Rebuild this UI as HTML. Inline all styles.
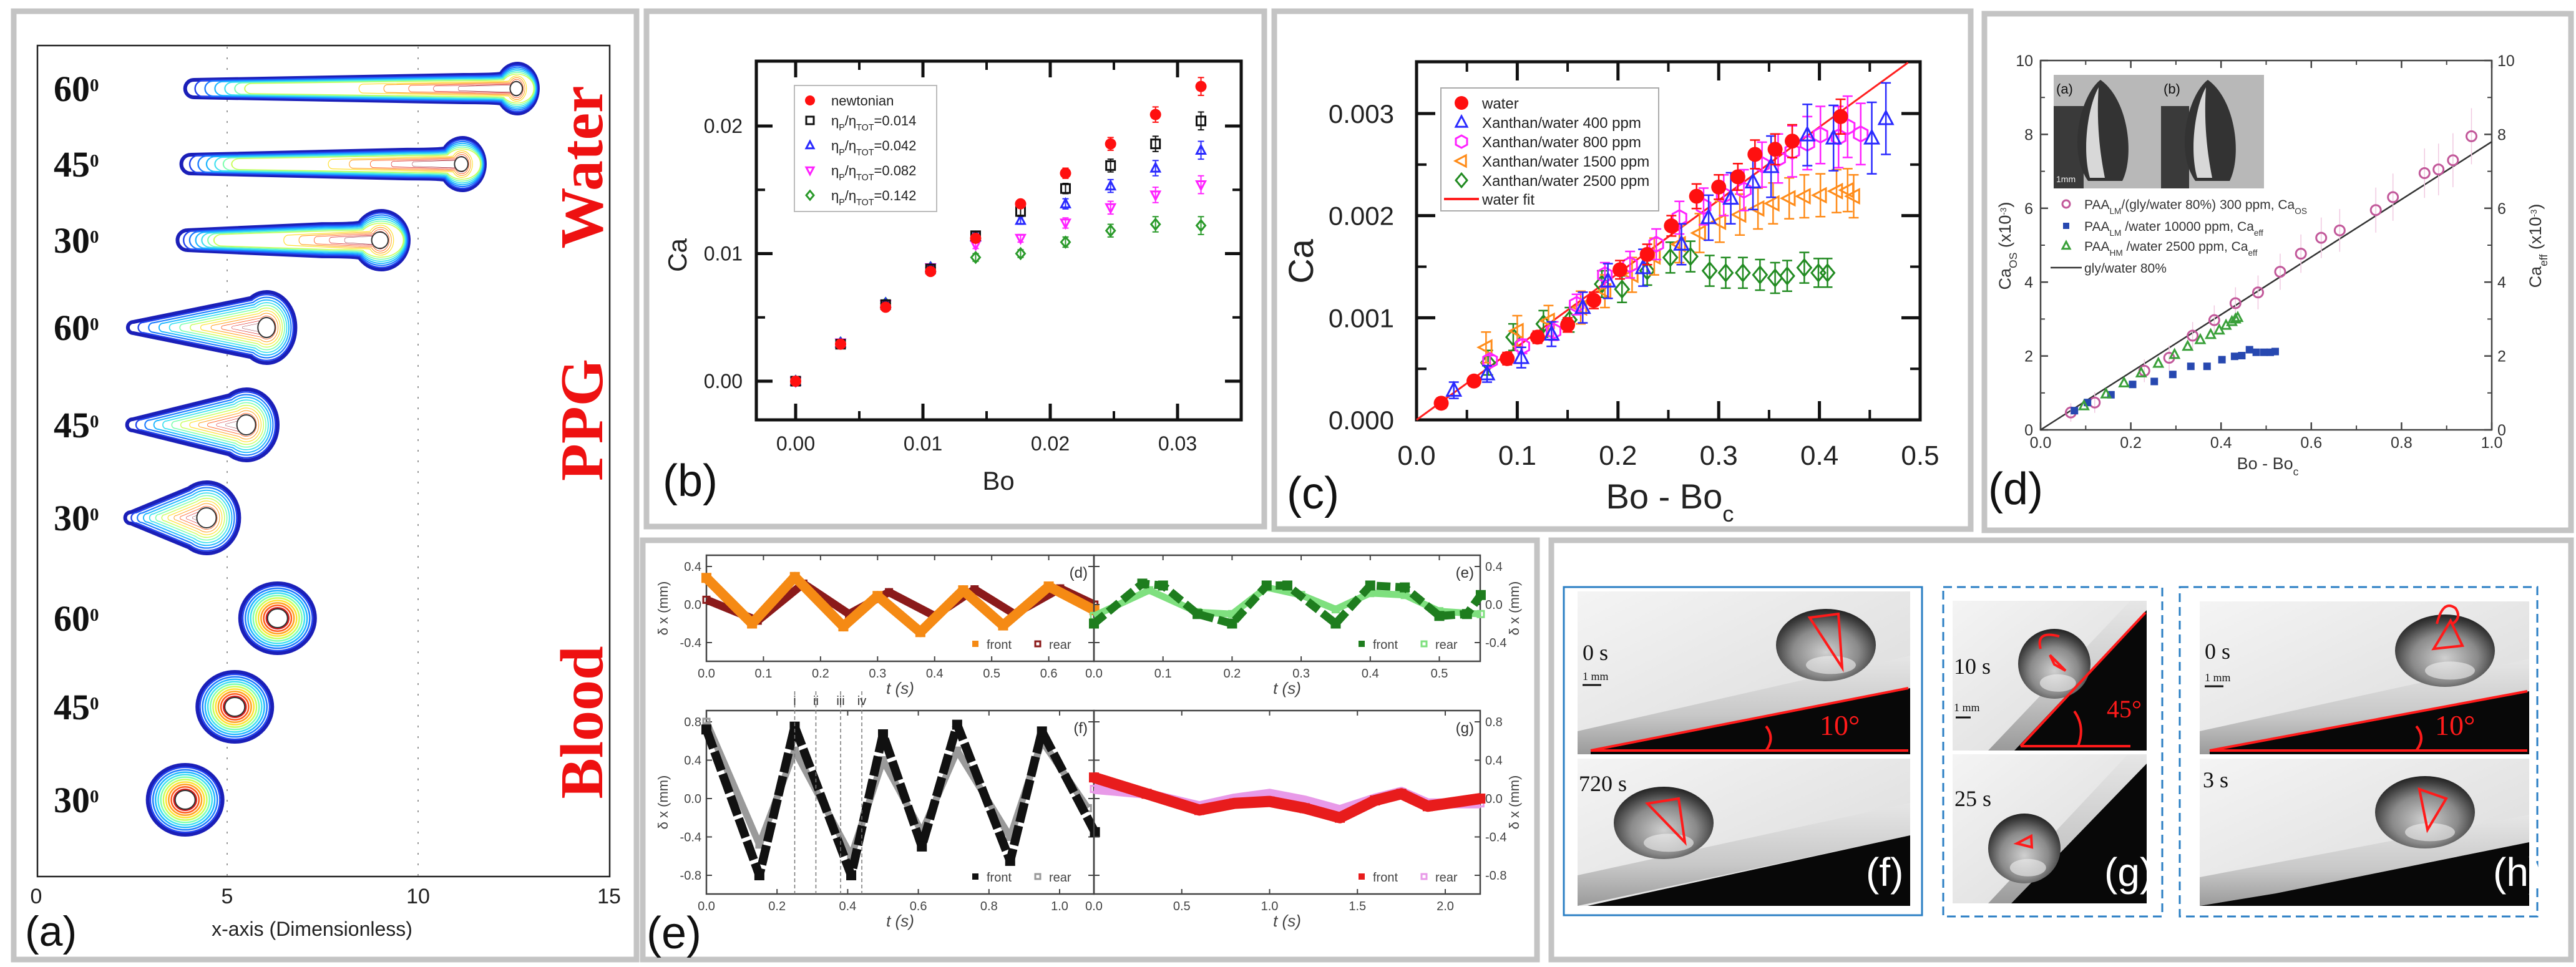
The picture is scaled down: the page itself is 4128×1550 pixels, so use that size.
<!DOCTYPE html>
<html><head><meta charset="utf-8"><title>Drop sliding composite figure</title>
<style>
html,body{margin:0;padding:0;background:#fff;}
svg{display:block;font-family:"Liberation Sans",Arial,sans-serif;}
</style></head>
<body>
<svg id="fig" xmlns="http://www.w3.org/2000/svg" width="4128" height="1550" viewBox="0 0 4128 1550">
<defs>
<linearGradient id="bgPhoto" x1="0" y1="0" x2="1" y2="1"><stop offset="0" stop-color="#f4f4f4"/><stop offset="1" stop-color="#d9d9d9"/></linearGradient>
<linearGradient id="bandG" x1="0" y1="0" x2="0" y2="1"><stop offset="0" stop-color="#e6e6e6"/><stop offset="0.6" stop-color="#c8c8c8"/><stop offset="1" stop-color="#9a9a9a"/></linearGradient>
<radialGradient id="dropG" cx="0.5" cy="0.6" r="0.6"><stop offset="0" stop-color="#d0d0d0"/><stop offset="0.55" stop-color="#8a8a8a"/><stop offset="0.85" stop-color="#404040"/><stop offset="1" stop-color="#222"/></radialGradient>
</defs>
<rect x="0" y="0" width="4128" height="1550" fill="#ffffff"/>
</svg>
<script>
// ---------------- data (panel b) ----------------
const bBo=[0,0.00353,0.00707,0.0106,0.01414,0.01767,0.0212,0.02474,0.02827,0.03184];
const bNewt=[0,0.0029,0.0058,0.0086,0.0112,0.0139,0.0163,0.0186,0.0209,0.0231];
const b014=[0,0.0029,0.006,0.0088,0.0114,0.0133,0.0151,0.0169,0.0186,0.0204];
const b042=[0,0.003,0.0061,0.0089,0.0113,0.0126,0.0139,0.0153,0.0167,0.0181];
const b082=[0,0.003,0.006,0.0089,0.0107,0.0112,0.0124,0.0136,0.0146,0.0154];
const b142=[0,0.003,0.0061,0.0089,0.0097,0.0100,0.0109,0.0118,0.0123,0.0122];
const bErr=[0.0001,0.0002,0.0002,0.0002,0.0003,0.0003,0.0004,0.0005,0.0006,0.0007];
const bXTicks=[0,0.01,0.02,0.03];
const bXLabels=["0.00","0.01","0.02","0.03"];
const bYTicks=[0,0.01,0.02];
const bYLabels=["0.00","0.01","0.02"];
// ---------------- data (panel c) ----------------
const cWaterX=[0.0245,0.057,0.09,0.12,0.15,0.176,0.202,0.229,0.253,0.278,0.3,0.319,0.336,0.356,0.373,0.421];
const cWaterY=[0.000163,0.00038,0.0006,0.00081,0.00093,0.00117,0.00147,0.00162,0.0019,0.00219,0.00228,0.00238,0.0026,0.00265,0.00273,0.00297];
const cWaterE=[0.00005,0.00005,0.00006,0.00006,0.00007,0.00008,0.00009,0.0001,0.0001,0.00012,0.00012,0.00013,0.00014,0.00015,0.00016,0.00017];
const c400X=[0.037,0.07,0.104,0.134,0.165,0.19,0.225,0.263,0.29,0.312,0.334,0.352,0.388,0.414,0.452,0.466];
const c400Y=[0.00029,0.00045,0.00061,0.00084,0.0011,0.00136,0.00149,0.00172,0.00198,0.00217,0.00233,0.00248,0.00279,0.00276,0.00276,0.00295];
const c400E=[0.00008,0.00008,0.0001,0.00012,0.00015,0.00017,0.00018,0.0002,0.00022,0.00025,0.00027,0.0003,0.0003,0.00032,0.00035,0.00035];
const c800X=[0.073,0.105,0.136,0.159,0.187,0.212,0.238,0.261,0.285,0.305,0.325,0.343,0.359,0.373,0.388,0.401,0.419,0.428,0.441];
const c800Y=[0.00058,0.00072,0.00087,0.00113,0.00142,0.00152,0.00172,0.00198,0.00209,0.0022,0.00225,0.0025,0.00256,0.00263,0.00271,0.00279,0.00277,0.00287,0.0028];
const c800E=[0.00005,0.00007,0.00009,0.0001,0.00012,0.00013,0.00015,0.00016,0.00018,0.0002,0.0002,0.00022,0.00024,0.00025,0.00026,0.00028,0.0003,0.0003,0.0003];
const c1500X=[0.069,0.1,0.131,0.163,0.187,0.214,0.236,0.261,0.281,0.301,0.321,0.339,0.354,0.37,0.385,0.401,0.417,0.428,0.434];
const c1500Y=[0.00071,0.00087,0.00097,0.0011,0.00126,0.00142,0.0016,0.00172,0.00183,0.00194,0.00201,0.00207,0.00212,0.00217,0.00219,0.0022,0.00224,0.00225,0.00219];
const c1500E=[0.00015,0.00015,0.00015,0.00016,0.00016,0.00017,0.00018,0.00018,0.00019,0.0002,0.0002,0.0002,0.0002,0.0002,0.00021,0.00021,0.00021,0.00021,0.00021];
const c2500X=[0.071,0.096,0.126,0.152,0.184,0.204,0.229,0.252,0.272,0.291,0.307,0.324,0.341,0.356,0.368,0.385,0.399,0.408];
const c2500Y=[0.00056,0.00081,0.00094,0.00098,0.00133,0.00128,0.00146,0.00159,0.0016,0.00146,0.00144,0.00144,0.00142,0.00139,0.00141,0.00149,0.00144,0.00144];
const c2500E=[0.00012,0.00013,0.00013,0.00012,0.00013,0.00013,0.00014,0.00015,0.00015,0.00015,0.00015,0.00015,0.00015,0.00015,0.00015,0.00015,0.00014,0.00014];
const cFitSlope=[0.00717];
const cXTicks=[0,0.1,0.2,0.3,0.4,0.5];
const cXLabels=["0.0","0.1","0.2","0.3","0.4","0.5"];
const cYTicks=[0,0.001,0.002,0.003];
const cYLabels=["0.000","0.001","0.002","0.003"];
// ---------------- data (panel d) ----------------
const dPinkX=[0.067,0.12,0.23,0.285,0.337,0.385,0.432,0.482,0.531,0.577,0.622,0.663,0.743,0.781,0.851,0.882,0.914,0.955];
const dPinkY=[0.47,0.74,1.6,1.95,2.55,2.97,3.43,3.72,4.28,4.77,5.2,5.4,5.95,6.3,6.95,7.05,7.3,7.95];
const dBlueX=[0.075,0.104,0.156,0.204,0.252,0.293,0.333,0.369,0.402,0.43,0.446,0.463,0.478,0.495,0.509,0.52];
const dBlueY=[0.52,0.74,0.95,1.23,1.31,1.5,1.72,1.72,1.9,1.99,2.01,2.17,2.1,2.1,2.1,2.12];
const dGreenX=[0.096,0.145,0.185,0.223,0.261,0.297,0.326,0.354,0.377,0.396,0.411,0.424,0.432,0.437];
const dGreenY=[0.65,0.97,1.27,1.54,1.8,2.04,2.26,2.44,2.58,2.7,2.83,2.93,3.0,3.04];
const dFit=[7.8];
const dXTicks=[0,0.2,0.4,0.6,0.8,1.0];
const dXLabels=["0.0","0.2","0.4","0.6","0.8","1.0"];
const dYTicks=[0,2,4,6,8,10];
const dYLabels=["0","2","4","6","8","10"];
// ---------------- data (panel e) ----------------
const eDT=[0,0.08,0.155,0.24,0.3,0.375,0.45,0.52,0.6,0.68];
const eDFront=[0.28,-0.2,0.29,-0.23,0.09,-0.29,0.15,-0.22,0.19,-0.06];
const eDRT=[0,0.09,0.17,0.25,0.32,0.4,0.47,0.54,0.62,0.68];
const eDRear=[0.05,-0.17,0.22,-0.1,0.13,-0.12,0.16,-0.1,0.17,0.0];
const eET=[0,0.07,0.1,0.15,0.2,0.25,0.28,0.35,0.4,0.45,0.5,0.54,0.56];
const eEFront=[-0.2,0.22,0.2,-0.1,-0.2,0.2,0.2,-0.2,0.2,0.18,-0.12,-0.1,0.1];
const eERT=[0,0.08,0.15,0.2,0.25,0.3,0.35,0.4,0.45,0.5,0.56];
const eERear=[-0.12,0.15,-0.08,-0.1,0.18,0.1,-0.05,0.12,0.1,-0.07,-0.1];
const eFT=[0,0.15,0.25,0.41,0.5,0.61,0.71,0.86,0.95,1.1];
const eFFront=[0.72,-0.8,0.75,-0.8,0.67,-0.5,0.77,-0.65,0.7,-0.35];
const eFRT=[0,0.15,0.25,0.41,0.5,0.61,0.71,0.86,0.95,1.08];
const eFRear=[0.8,-0.48,0.5,-0.6,0.4,-0.35,0.5,-0.4,0.6,-0.1];
const eFMarks=[0.25,0.31,0.38,0.44];
const eFMarkLabels=["i","ii","iii","iv"];
const eGT=[0,0.3,0.6,0.8,1.0,1.2,1.4,1.6,1.75,1.9,2.2];
const eGFront=[0.22,0.05,-0.12,-0.05,-0.03,-0.1,-0.2,-0.02,0.05,-0.08,0.0];
const eGRear=[0.1,0.05,-0.08,0.0,0.05,-0.02,-0.12,0.0,0.07,-0.05,-0.05];
// ---------------- data (panel a) ----------------
const aTailX=[3.9,3.8,3.7,2.4,2.38,2.33];
const aHeadX=[12.57,11.13,9.0,6.03,5.5,4.46];
const aBloodX=[6.32,5.2,3.9];
const aTicks=[0,5,10,15];

// ---------------- helpers ----------------
const NS='http://www.w3.org/2000/svg';
const svg=document.getElementById('fig');
function mk(tag,attrs,parent,name,inter){
  const el=document.createElementNS(NS,tag);
  for(const k in attrs) el.setAttribute(k,attrs[k]);
  
  
  (parent||svg).appendChild(el);
  return el;
}
function txt(x,y,s,attrs,parent,name){
  const t=mk('text',Object.assign({x:x,y:y},attrs||{}),parent,name,false);
  t.textContent=s;
  return t;
}
function rich(x,y,parts,attrs,parent,name){
  const t=mk('text',Object.assign({x:x,y:y},attrs||{}),parent,name,false);
  parts.forEach(p=>{
    const s=document.createElementNS(NS,'tspan');
    if(p[1]==='sub'){s.setAttribute('baseline-shift','sub');s.setAttribute('font-size','65%');}
    if(p[1]==='sup'){s.setAttribute('baseline-shift','super');s.setAttribute('font-size','50%');}
    s.textContent=p[0];
    t.appendChild(s);
  });
  return t;
}
function lin(d0,d1,p0,p1){return v=>p0+(v-d0)/(d1-d0)*(p1-p0);}
function group(name){return mk('g',{},svg,name,false);}
function marker(type,x,y,s,color,g,name){
  let el;
  const sw=3;
  if(type==='dot') el=mk('circle',{cx:x,cy:y,r:s,fill:color},g,name,false);
  else if(type==='sq') el=mk('rect',{x:x-s,y:y-s,width:2*s,height:2*s,fill:'none',stroke:color,'stroke-width':sw},g,name,false);
  else if(type==='fsq') el=mk('rect',{x:x-s,y:y-s,width:2*s,height:2*s,fill:color},g,name,false);
  else if(type==='circ') el=mk('circle',{cx:x,cy:y,r:s,fill:'none',stroke:color,'stroke-width':sw},g,name,false);
  else {
    let pts;
    if(type==='tri') pts=[[0,-s*1.1],[s,s*0.8],[-s,s*0.8]];
    else if(type==='itri') pts=[[0,s*1.1],[s,-s*0.8],[-s,-s*0.8]];
    else if(type==='ltri') pts=[[-s*1.1,0],[s*0.8,-s],[s*0.8,s]];
    else if(type==='dia') pts=[[0,-s*1.2],[s,0],[0,s*1.2],[-s,0]];
    else if(type==='hex') pts=[[0,-s*1.1],[s,-s*0.55],[s,s*0.55],[0,s*1.1],[-s,s*0.55],[-s,-s*0.55]];
    el=mk('polygon',{points:pts.map(p=>(x+p[0])+','+(y+p[1])).join(' '),fill:'none',stroke:color,'stroke-width':sw},g,name,false);
  }
  return el;
}
function errbar(x,y0,y1,color,g,name,cap,w){
  mk('path',{d:`M${x},${y0}V${y1}M${x-cap},${y0}H${x+cap}M${x-cap},${y1}H${x+cap}`,stroke:color,'stroke-width':w||2.5,fill:'none'},g,name,false);
}
function panelBox(x,y,w,h,name){
  mk('rect',{x:x,y:y,width:w,height:h,fill:'#fff',stroke:'#c4c4c4','stroke-width':9},svg,name,false);
}
function ticksX(g,xs,vals,y0,y1,len,dir,sw,color){
  vals.forEach(v=>{
    mk('line',{x1:xs(v),y1:y0,x2:xs(v),y2:y0-len,stroke:color,'stroke-width':sw},g,'x-tick-bottom',false);
    mk('line',{x1:xs(v),y1:y1,x2:xs(v),y2:y1+len,stroke:color,'stroke-width':sw},g,'x-tick-top',false);
  });
}
function ticksY(g,ys,vals,x0,x1,len,sw,color){
  vals.forEach(v=>{
    mk('line',{x1:x0,y1:ys(v),x2:x0+len,y2:ys(v),stroke:color,'stroke-width':sw},g,'y-tick-left',false);
    mk('line',{x1:x1,y1:ys(v),x2:x1-len,y2:ys(v),stroke:color,'stroke-width':sw},g,'y-tick-right',false);
  });
}

// ---------------- panel boxes ----------------
panelBox(22,18,998,1520,'panel-a-box');
panelBox(1036,18,990,826,'panel-b-box');
panelBox(2042,18,1116,830,'panel-c-box');
panelBox(3180,22,940,828,'panel-d-box');
panelBox(1030,866,1433,672,'panel-e-box');
panelBox(2486,866,1634,672,'panel-fgh-box');

// ================= PANEL A =================
(function(){
  const g=group('panel-a');
  const xa=lin(0,15,58,976);
  mk('rect',{x:60,y:73,width:917,height:1332,fill:'none',stroke:'#222','stroke-width':2.5},g,'plot-frame',false);
  [5,10].forEach(v=>mk('line',{x1:xa(v),y1:75,x2:xa(v),y2:1404,stroke:'#999','stroke-width':2,'stroke-dasharray':'3,14'},g,'dotted-gridline',false));
  aTicks.forEach((v,i)=>txt(xa(v),1448,String(v),{'font-size':34,'text-anchor':'middle',fill:'#222'},g,'x-tick-label'));
  txt(500,1500,'x-axis (Dimensionless)',{'font-size':32,'text-anchor':'middle',fill:'#222'},g,'x-axis-title');
  txt(40,1516,'(a)',{'font-size':68,fill:'#111'},g,'panel-label-a');
  const jet=['#1b1fb8','#2244ee','#1d7cff','#1fb6ff','#3fe0f0','#7dffb0','#c8ff5a','#ffe033','#ffa020','#ff5a1a','#d81a1a','#8a0f20'];
  const rows=[142,263,385,525,681,830];
  const drops=[[33,40,14],[36,42,15],[44,47,16],[46,57,9],[50,57,9],[52,57,9]];
  rows.forEach((cy,i)=>{
    const tx=xa(aTailX[i]), hx=xa(aHeadX[i]);
    const rx=drops[i][0], ry=drops[i][1], h=drops[i][2];
    const water=i<3;
    const ax=hx-rx*(water?0.75:0.55), ayU=cy-ry*(water?0.6:0.83), ayD=cy+ry*(water?0.6:0.83);
    const nx=water?ax-60:ax, nh=water?ry*0.55:0;
    const d=water
      ? `M${tx+h},${cy-h} L${nx},${cy-nh} Q${ax-10},${cy-nh} ${ax},${ayU} A${rx},${ry} 0 1 1 ${ax},${ayD} Q${ax-10},${cy+nh} ${nx},${cy+nh} L${tx+h},${cy+h} A${h},${h} 0 0 1 ${tx+h},${cy-h}Z`
      : `M${tx+h},${cy-h} L${ax},${ayU} A${rx},${ry} 0 1 1 ${ax},${ayD} L${tx+h},${cy+h} A${h},${h} 0 0 1 ${tx+h},${cy-h}Z`;
    const dg=mk('g',{},g,'contour-drop',false);
    mk('path',{d:d,fill:'#fff',stroke:jet[0],'stroke-width':6},dg,'drop-outline',false);
    for(let k=1;k<jet.length;k++){
      const s=1-k*0.075;
      const sy=water?Math.max(0.25,1-k*0.07):s;
      const sx=water?Math.max(0.3,1-k*0.03):s;
      mk('path',{d:d,fill:'none',stroke:jet[k],'stroke-width':2.5,transform:`translate(${hx},${cy}) scale(${water?(k>6?s:sx):s},${sy}) translate(${-hx},${-cy})`},dg,'contour-line',false);
    }
    mk('ellipse',{cx:hx,cy:cy,rx:rx*0.3,ry:ry*0.28,fill:'#fff',stroke:'#333','stroke-width':2},dg,'drop-core',false);
  });
  [991,1133,1282].forEach((cy,i)=>{
    const cx=xa(aBloodX[i]);
    const dg=mk('g',{},g,'blood-drop',false);
    for(let k=0;k<jet.length;k++){
      const s=1-k*0.07;
      mk('ellipse',{cx:cx,cy:cy,rx:60*s,ry:56*s,fill:k===0?'#fff':'none',stroke:jet[k],'stroke-width':k===0?6:2.5},dg,'contour-line',false);
    }
    mk('ellipse',{cx:cx,cy:cy,rx:16,ry:15,fill:'#fff',stroke:'#333','stroke-width':2},dg,'drop-core',false);
  });
  const angs=['60','45','30','60','45','30','60','45','30'];
  const ay=[142,263,385,525,681,830,991,1133,1282];
  angs.forEach((a,i)=>rich(86,ay[i]+20,[[a,''],['0','sup']],{'font-size':58,'font-weight':'bold','font-family':'"Liberation Serif",serif',fill:'#111'},g,'angle-label'));
  [['Water',268],['PPG',673],['Blood',1158]].forEach(w=>{
    txt(0,0,w[0],{'font-size':98,'font-weight':'bold','font-family':'"Liberation Serif",serif',fill:'#ee1111','text-anchor':'middle',transform:`translate(965,${w[1]}) rotate(-90)`},g,'fluid-label-'+w[0].toLowerCase());
  });
})();

// ================= PANEL B =================
(function(){
  const g=group('panel-b');
  const xb=lin(0,0.03,1275,1887), yb=lin(0,0.02,611,202);
  mk('rect',{x:1212,y:98,width:777,height:575,fill:'none',stroke:'#111','stroke-width':5},g,'plot-frame',false);
  ticksX(g,xb,bXTicks,673,98,26,0,5,'#111');
  ticksX(g,xb,[0.005,0.015,0.025],673,98,14,0,4,'#111');
  ticksY(g,yb,bYTicks,1212,1989,26,5,'#111');
  ticksY(g,yb,[0.005,0.015],1212,1989,14,4,'#111');
  bXTicks.forEach((v,i)=>txt(xb(v),722,bXLabels[i],{'font-size':32,'text-anchor':'middle',fill:'#222'},g,'x-tick-label'));
  bYTicks.forEach((v,i)=>txt(1190,yb(v)+11,bYLabels[i],{'font-size':32,'text-anchor':'end',fill:'#222'},g,'y-tick-label'));
  txt(0,0,'Ca',{'font-size':42,'text-anchor':'middle',fill:'#222',transform:'translate(1100,409) rotate(-90)'},g,'y-axis-title');
  txt(1600,785,'Bo',{'font-size':42,'text-anchor':'middle',fill:'#222'},g,'x-axis-title');
  txt(1062,795,'(b)',{'font-size':72,fill:'#111'},g,'panel-label-b');
  const series=[[b142,'dia','#2a9a2a'],[b082,'itri','#ff22ff'],[b042,'tri','#2a2aff'],[b014,'sq','#111'],[bNewt,'dot','#ff1010']];
  series.forEach((s,si)=>{
    const sg=mk('g',{},g,'series-b-'+si,false);
    bBo.forEach((x,i)=>{
      const px=xb(x),py=yb(s[0][i]);
      errbar(px,yb(s[0][i]+bErr[i]),yb(s[0][i]-bErr[i]),s[2],sg,'error-bar',5,2);
      marker(s[1],px,py,s[1]==='dot'?9:7,s[2],sg,'data-point');
    });
  });
  const lg=mk('g',{},g,'legend-b',false);
  mk('rect',{x:1273,y:137,width:228,height:202,fill:'#fff',stroke:'#bbb','stroke-width':2},lg,'legend-frame',false);
  const ly=[161,193,233,273,313];
  const lt=['newtonian','=0.014','=0.042','=0.082','=0.142'];
  const lm=[['dot','#ff1010'],['sq','#111'],['tri','#2a2aff'],['itri','#ff22ff'],['dia','#2a9a2a']];
  ly.forEach((y,i)=>{
    marker(lm[i][0],1298,y,lm[i][0]==='dot'?8:6,lm[i][1],lg,'legend-marker');
    if(i===0) txt(1332,y+8,lt[i],{'font-size':22,fill:'#222'},lg,'legend-entry');
    else rich(1332,y+8,[['η',''],['P','sub'],['/η',''],['TOT','sub'],[lt[i],'']],{'font-size':22,fill:'#222'},lg,'legend-entry');
  });
})();

// ================= PANEL C =================
(function(){
  const g=group('panel-c');
  const xc=lin(0,0.5,2270,3077), yc=lin(0,0.003,673,182);
  mk('rect',{x:2270,y:99,width:807,height:574,fill:'none',stroke:'#111','stroke-width':5},g,'plot-frame',false);
  ticksX(g,xc,cXTicks,673,99,30,0,5,'#111');
  ticksX(g,xc,[0.05,0.15,0.25,0.35,0.45],673,99,16,0,4,'#111');
  ticksY(g,yc,cYTicks,2270,3077,30,5,'#111');
  ticksY(g,yc,[0.0005,0.0015,0.0025],2270,3077,16,4,'#111');
  cXTicks.forEach((v,i)=>txt(xc(v),745,cXLabels[i],{'font-size':44,'text-anchor':'middle',fill:'#222'},g,'x-tick-label'));
  cYTicks.forEach((v,i)=>txt(2234,yc(v)+15,cYLabels[i],{'font-size':42,'text-anchor':'end',fill:'#222'},g,'y-tick-label'));
  txt(0,0,'Ca',{'font-size':56,'text-anchor':'middle',fill:'#222',transform:'translate(2104,419) rotate(-90)'},g,'y-axis-title');
  rich(2676,815,[['Bo - Bo',''],['c','sub']],{'font-size':56,'text-anchor':'middle',fill:'#222'},g,'x-axis-title');
  txt(2062,815,'(c)',{'font-size':72,fill:'#111'},g,'panel-label-c');
  const xEnd=0.488;
  mk('line',{x1:xc(0),y1:yc(0),x2:xc(xEnd),y2:yc(xEnd*cFitSlope[0]),stroke:'#ff2020','stroke-width':3},g,'water-fit-line',false);
  const series=[[c2500X,c2500Y,c2500E,'dia','#228b22'],[c1500X,c1500Y,c1500E,'ltri','#ff8c1a'],[c800X,c800Y,c800E,'hex','#ff22ff'],[c400X,c400Y,c400E,'tri','#2a2aff'],[cWaterX,cWaterY,cWaterE,'dot','#ff1010']];
  series.forEach((s,si)=>{
    const sg=mk('g',{},g,'series-c-'+si,false);
    s[0].forEach((x,i)=>{
      const px=xc(x),py=yc(s[1][i]);
      errbar(px,yc(s[1][i]+s[2][i]),yc(s[1][i]-s[2][i]),s[4],sg,'error-bar',8,2.5);
      marker(s[3],px,py,s[3]==='dot'?12:11,s[4],sg,'data-point');
    });
  });
  const lg=mk('g',{},g,'legend-c',false);
  mk('rect',{x:2309,y:141,width:349,height:197,fill:'#fff',stroke:'#aaa','stroke-width':2},lg,'legend-frame',false);
  const ly=[165,196,227,258,289,319];
  const lt=['water','Xanthan/water 400 ppm','Xanthan/water 800 ppm','Xanthan/water 1500 ppm','Xanthan/water 2500 ppm','water fit'];
  const lm=[['dot','#ff1010'],['tri','#2a2aff'],['hex','#ff22ff'],['ltri','#ff8c1a'],['dia','#228b22']];
  ly.forEach((y,i)=>{
    if(i<5) marker(lm[i][0],2342,y,i===0?11:9,lm[i][1],lg,'legend-marker');
    else mk('line',{x1:2314,y1:y,x2:2370,y2:y,stroke:'#ff2020','stroke-width':4},lg,'legend-line',false);
    txt(2375,y+9,lt[i],{'font-size':24,fill:'#222'},lg,'legend-entry');
  });
})();

// ================= PANEL D =================
(function(){
  const g=group('panel-d');
  const xd=lin(0,1,3270,3993), yd=lin(0,10,689,97);
  mk('rect',{x:3270,y:97,width:723,height:592,fill:'none',stroke:'#444','stroke-width':2.5},g,'plot-frame',false);
  ticksX(g,xd,dXTicks,689,97,12,0,2.5,'#444');
  ticksX(g,xd,[0.1,0.3,0.5,0.7,0.9],689,97,7,0,2,'#444');
  ticksY(g,yd,dYTicks,3270,3993,12,2.5,'#444');
  ticksY(g,yd,[1,3,5,7,9],3270,3993,7,2,'#444');
  dXTicks.forEach((v,i)=>txt(xd(v),718,dXLabels[i],{'font-size':25,'text-anchor':'middle',fill:'#333'},g,'x-tick-label'));
  dYTicks.forEach((v,i)=>txt(3258,yd(v)+9,dYLabels[i],{'font-size':25,'text-anchor':'end',fill:'#333'},g,'y-tick-label-left'));
  dYTicks.forEach((v,i)=>txt(4002,yd(v)+9,dYLabels[i],{'font-size':25,'text-anchor':'start',fill:'#333'},g,'y-tick-label-right'));
  rich(0,0,[['Ca',''],['OS','sub'],['  (x10',''],['-3','sup'],[')','']],{'font-size':27,'text-anchor':'middle',fill:'#333',transform:'translate(3222,394) rotate(-90)'},g,'y-axis-title-left');
  rich(0,0,[['Ca',''],['eff','sub'],['  (x10',''],['-3','sup'],[')','']],{'font-size':27,'text-anchor':'middle',fill:'#333',transform:'translate(4072,394) rotate(-90)'},g,'y-axis-title-right');
  rich(3634,752,[['Bo - Bo',''],['c','sub']],{'font-size':27,'text-anchor':'middle',fill:'#333'},g,'x-axis-title');
  txt(3186,808,'(d)',{'font-size':72,fill:'#111'},g,'panel-label-d');
  const ig=mk('g',{},g,'inset-photos',false);
  [[3291,'(a)'],[3463,'(b)']].forEach((p,i)=>{
    mk('rect',{x:p[0],y:120,width:i?165:172,height:182,fill:'#b8b8b8'},ig,'inset-photo',false);
    mk('rect',{x:p[0],y:170,width:i?45:48,height:132,fill:'#3a3a3a'},ig,'inset-dark-region',false);
    mk('path',{d:`M${p[0]+55},${290} C${p[0]+20},240 ${p[0]+45},150 ${p[0]+75},128 C${p[0]+120},160 ${p[0]+130},250 ${p[0]+110},290 Z`,fill:'#333'},ig,'inset-drop',false);
    mk('path',{d:`M${p[0]+58},${285} C${p[0]+45},240 ${p[0]+55},170 ${p[0]+72},140 C${p[0]+68},200 ${p[0]+75},250 ${p[0]+82},285 Z`,fill:'#d8d8d8'},ig,'inset-drop-highlight',false);
    txt(p[0]+4,150,p[1],{'font-size':22,fill:'#111'},ig,'inset-label');
  });
  txt(3295,292,'1mm',{'font-size':14,fill:'#eee'},ig,'inset-scale-label');
  mk('line',{x1:xd(0),y1:yd(0),x2:xd(1),y2:yd(dFit[0]),stroke:'#333','stroke-width':2.5},g,'gly-water-fit-line',false);
  const pg=mk('g',{},g,'series-paa-lm-gly',false);
  dPinkX.forEach((x,i)=>{
    mk('line',{x1:xd(x),y1:yd(dPinkY[i]+0.25+i*0.03),x2:xd(x),y2:yd(dPinkY[i]-0.25-i*0.03),stroke:'#f0c8e0','stroke-width':1.5},pg,'error-bar',false);
    marker('circ',xd(x),yd(dPinkY[i]),8,'#c2589a',pg,'data-point');
  });
  const bg=mk('g',{},g,'series-paa-lm-water',false);
  dBlueX.forEach((x,i)=>marker('fsq',xd(x),yd(dBlueY[i]),6,'#2748b0',bg,'data-point'));
  const gg=mk('g',{},g,'series-paa-hm-water',false);
  dGreenX.forEach((x,i)=>marker('tri',xd(x),yd(dGreenY[i]),7,'#3aa03a',gg,'data-point'));
  const lg=mk('g',{},g,'legend-d',false);
  marker('circ',3311,327,6,'#c2589a',lg,'legend-marker');
  rich(3340,335,[['PAA',''],['LM','sub'],['/(gly/water 80%) 300 ppm, Ca',''],['OS','sub']],{'font-size':21,fill:'#333'},lg,'legend-entry');
  marker('fsq',3311,362,5,'#2748b0',lg,'legend-marker');
  rich(3340,370,[['PAA',''],['LM','sub'],[' /water 10000 ppm, Ca',''],['eff','sub']],{'font-size':21,fill:'#333'},lg,'legend-entry');
  marker('tri',3311,394,6,'#3aa03a',lg,'legend-marker');
  rich(3340,402,[['PAA',''],['HM','sub'],[' /water 2500 ppm, Ca',''],['eff','sub']],{'font-size':21,fill:'#333'},lg,'legend-entry');
  mk('line',{x1:3286,y1:429,x2:3336,y2:429,stroke:'#333','stroke-width':2.5},lg,'legend-line',false);
  txt(3340,437,'gly/water 80%',{'font-size':21,fill:'#333'},lg,'legend-entry');
})();

// ================= PANEL E =================
(function(){
  const g=group('panel-e');
  txt(1036,1520,'(e)',{'font-size':72,fill:'#111'},g,'panel-label-e');
  function sub(cfg){
    const sg=mk('g',{},g,'subplot-'+cfg.id,false);
    const xs=lin(0,cfg.xmax1,cfg.x0,cfg.xp1), ys=lin(cfg.ylo,cfg.yhi,cfg.yb,cfg.yt);
    mk('rect',{x:cfg.x0,y:cfg.fy0,width:cfg.fw,height:cfg.fh,fill:'none',stroke:'#444','stroke-width':2.5},sg,'plot-frame',false);
    cfg.xt.forEach(v=>{
      mk('line',{x1:xs(v),y1:cfg.fy0+cfg.fh,x2:xs(v),y2:cfg.fy0+cfg.fh-8,stroke:'#444','stroke-width':2},sg,'x-tick',false);
      mk('line',{x1:xs(v),y1:cfg.fy0,x2:xs(v),y2:cfg.fy0+8,stroke:'#444','stroke-width':2},sg,'x-tick',false);
    });
    cfg.xl.forEach((v,i)=>txt(xs(v),cfg.fy0+cfg.fh+26,cfg.xlab[i],{'font-size':20,'text-anchor':'middle',fill:'#444'},sg,'x-tick-label'));
    cfg.yt2.forEach((v,i)=>{
      mk('line',{x1:cfg.x0,y1:ys(v),x2:cfg.x0+9,y2:ys(v),stroke:'#444','stroke-width':2},sg,'y-tick',false);
      mk('line',{x1:cfg.x0+cfg.fw,y1:ys(v),x2:cfg.x0+cfg.fw-9,y2:ys(v),stroke:'#444','stroke-width':2},sg,'y-tick',false);
      const lx=cfg.left?cfg.x0-8:cfg.x0+cfg.fw+8;
      txt(lx,ys(v)+7,cfg.ylab[i],{'font-size':20,'text-anchor':cfg.left?'end':'start',fill:'#444'},sg,'y-tick-label');
    });
    const ax=cfg.left?cfg.x0-62:cfg.x0+cfg.fw+62;
    txt(0,0,'δ x (mm)',{'font-size':22,'text-anchor':'middle',fill:'#444',transform:`translate(${ax},${cfg.fy0+cfg.fh/2}) rotate(-90)`},sg,'y-axis-title');
    txt(cfg.x0+cfg.fw/2,cfg.fy0+cfg.fh+52,'t (s)',{'font-size':26,'font-style':'italic','text-anchor':'middle',fill:'#444'},sg,'x-axis-title');
    txt(cfg.x0+cfg.fw-10,cfg.fy0+36,cfg.tag,{'font-size':24,'text-anchor':'end',fill:'#333'},sg,'subplot-label');
    const rp=cfg.rt.map((t,i)=>xs(t)+','+ys(cfg.rv[i])).join(' ');
    mk('polyline',{points:rp,fill:'none',stroke:cfg.rc,'stroke-width':cfg.rw,'stroke-linejoin':'round','stroke-dasharray':cfg.rdash||'none'},sg,'rear-series-line',false);
    cfg.rt.forEach((t,i)=>marker('sq',xs(t),ys(cfg.rv[i]),5,cfg.rc,sg,'rear-point'));
    const fp=cfg.ft.map((t,i)=>xs(t)+','+ys(cfg.fv[i])).join(' ');
    mk('polyline',{points:fp,fill:'none',stroke:cfg.fc,'stroke-width':cfg.fwid,'stroke-linejoin':'round','stroke-dasharray':cfg.fdash||'none'},sg,'front-series-line',false);
    cfg.ft.forEach((t,i)=>marker('fsq',xs(t),ys(cfg.fv[i]),8,cfg.fc,sg,'front-point'));
    const ly=cfg.fy0+cfg.fh-22, lx=cfg.x0+cfg.fw-190;
    marker('fsq',lx,ly-6,5,cfg.fc,sg,'legend-marker');
    txt(lx+18,ly+2,'front',{'font-size':20,fill:'#444'},sg,'legend-entry');
    marker('sq',lx+100,ly-6,4,cfg.rc,sg,'legend-marker');
    txt(lx+118,ly+2,'rear',{'font-size':20,fill:'#444'},sg,'legend-entry');
    return {xs,ys,sg};
  }
  const topY=['0.4','0.0','-0.4'], botY=['0.8','0.4','0.0','-0.4','-0.8'];
  sub({id:'d',tag:'(d)',left:true,x0:1132,fw:621,fy0:890,fh:170,xmax1:0.6,xp1:1680.6,ylo:-0.4,yhi:0.4,yb:1030,yt:908,
    xt:[0,0.1,0.2,0.3,0.4,0.5,0.6],xl:[0,0.1,0.2,0.3,0.4,0.5,0.6],xlab:['0.0','0.1','0.2','0.3','0.4','0.5','0.6'],
    yt2:[0.4,0,-0.4],ylab:topY,ft:eDT,fv:eDFront,rt:eDRT,rv:eDRear,fc:'#f58a14',rc:'#8b1a1a',fwid:16,rw:13});
  sub({id:'e',tag:'(e)',left:false,x0:1753,fw:619,fy0:890,fh:170,xmax1:0.5,xp1:2306.5,ylo:-0.4,yhi:0.4,yb:1030,yt:908,
    xt:[0,0.1,0.2,0.3,0.4,0.5],xl:[0,0.1,0.2,0.3,0.4,0.5],xlab:['0.0','0.1','0.2','0.3','0.4','0.5'],
    yt2:[0.4,0,-0.4],ylab:topY,ft:eET,fv:eEFront,rt:eERT,rv:eERear,fc:'#1e7d1e',rc:'#7fe07f',fwid:13,rw:11,fdash:'22,8'});
  const f=sub({id:'f',tag:'(f)',left:true,x0:1132,fw:621,fy0:1139,fh:294,xmax1:1,xp1:1698,ylo:-0.8,yhi:0.8,yb:1403,yt:1157,
    xt:[0,0.2,0.4,0.6,0.8,1.0],xl:[0,0.2,0.4,0.6,0.8,1.0],xlab:['0.0','0.2','0.4','0.6','0.8','1.0'],
    yt2:[0.8,0.4,0,-0.4,-0.8],ylab:botY,ft:eFT,fv:eFFront,rt:eFRT,rv:eFRear,fc:'#111',rc:'#9a9a9a',fwid:14,rw:11,fdash:'32,6'});
  eFMarks.forEach((t,i)=>{
    mk('line',{x1:f.xs(t),y1:1108,x2:f.xs(t),y2:1433,stroke:'#777','stroke-width':1.5,'stroke-dasharray':'6,4'},f.sg,'event-marker-line',false);
    txt(f.xs(t),1130,eFMarkLabels[i],{'font-size':20,'text-anchor':'middle',fill:'#333'},f.sg,'event-marker-label');
  });
  sub({id:'g',tag:'(g)',left:false,x0:1753,fw:619,fy0:1139,fh:294,xmax1:2,xp1:2316,ylo:-0.8,yhi:0.8,yb:1403,yt:1157,
    xt:[0,0.5,1.0,1.5,2.0],xl:[0,0.5,1.0,1.5,2.0],xlab:['0.0','0.5','1.0','1.5','2.0'],
    yt2:[0.8,0.4,0,-0.4,-0.8],ylab:botY,ft:eGT,fv:eGFront,rt:eGT,rv:eGRear,fc:'#e81c1c',rc:'#e89ae8',fwid:18,rw:16});
})();

// ================= PANELS F G H (photos) =================
(function(){
  const g=group('panel-fgh');
  mk('rect',{x:2506,y:941,width:574,height:526,fill:'none',stroke:'#2b7fc4','stroke-width':3},g,'frame-f',false);
  mk('rect',{x:3114,y:941,width:351,height:528,fill:'none',stroke:'#2b7fc4','stroke-width':3,'stroke-dasharray':'14,8'},g,'frame-g',false);
  mk('rect',{x:3493,y:941,width:573,height:528,fill:'none',stroke:'#2b7fc4','stroke-width':3,'stroke-dasharray':'14,8'},g,'frame-h',false);
  function photo(name,x,y,w,h,band,black,drop,redLines,labels){
    const pg=mk('g',{},g,name,false);
    mk('rect',{x:x,y:y,width:w,height:h,fill:'url(#bgPhoto)'},pg,'photo-background',false);
    mk('polygon',{points:band,fill:'url(#bandG)'},pg,'substrate-surface',false);
    mk('polygon',{points:black,fill:'#080808'},pg,'substrate-shadow',false);
    mk('ellipse',{cx:drop[0],cy:drop[1],rx:drop[2],ry:drop[3],fill:'url(#dropG)'},pg,'droplet',false);
    mk('ellipse',{cx:drop[0]+drop[2]*0.1,cy:drop[1]+drop[3]*0.55,rx:drop[2]*0.5,ry:drop[3]*0.25,fill:'#f0f0f0',opacity:0.6},pg,'droplet-highlight',false);
    (redLines||[]).forEach(d=>mk('path',{d:d,fill:'none',stroke:'#ff1a1a','stroke-width':4},pg,'red-annotation',false));
    (labels||[]).forEach(l=>txt(l[0],l[1],l[2],Object.assign({'font-family':'"Liberation Serif",serif'},l[3]),pg,'photo-label'));
    return pg;
  }
  photo('photo-f-top',2528,948,533,261,'2528,1172 3061,1051 3061,1103 2549,1209 2528,1209','2549,1205 3061,1103 3061,1209 2549,1209',[2926,1034,80,58],
    ['M2549,1203 L3058,1203 M2549,1203 L3058,1103','M2830,1164 Q2845,1183 2830,1203','M2900,990 L2946,984 L2952,1070 Z'],
    [[2916,1178,'10°',{'font-size':46,fill:'#ff1a1a'}],[2536,1058,'0 s',{'font-size':36,fill:'#111'}],[2536,1090,'1 mm',{'font-size':18,fill:'#111'}]]);
  mk('line',{x1:2536,y1:1098,x2:2566,y2:1098,stroke:'#111','stroke-width':3},g,'scale-bar',false);
  photo('photo-f-bottom',2528,1216,533,236,'2528,1403 3061,1287 3061,1339 2528,1452','2544,1452 3061,1339 3061,1452',[2666,1319,80,58],
    ['M2640,1288 L2690,1280 L2700,1350 Z'],
    [[2530,1268,'720 s',{'font-size':36,fill:'#111'}],[2990,1420,'(f)',{'font-size':64,fill:'#fff','font-family':'"Liberation Sans",sans-serif'}]]);
  photo('photo-g-top',3129,963,311,240,'3186,1203 3414,963 3440,963 3440,978 3228,1203','3228,1203 3440,978 3440,1203',[3292,1064,58,56],
    ['M3238,1196 L3414,1196 M3238,1196 L3438,982','M3324,1140 Q3342,1165 3330,1196','M3270,1040 Q3262,1010 3300,1020','M3285,1050 L3310,1075 L3292,1065 Z'],
    [[3376,1150,'45°',{'font-size':40,fill:'#ff1a1a'}],[3131,1080,'10 s',{'font-size':36,fill:'#111'}],[3131,1140,'1 mm',{'font-size':18,fill:'#111'}]]);
  mk('line',{x1:3134,y1:1150,x2:3158,y2:1150,stroke:'#111','stroke-width':3},g,'scale-bar',false);
  photo('photo-g-bottom',3129,1209,311,239,'3186,1448 3410,1209 3440,1209 3440,1224 3223,1448','3223,1448 3440,1224 3440,1448',[3244,1360,58,56],
    ['M3232,1352 L3255,1340 L3256,1358 Z'],
    [[3132,1292,'25 s',{'font-size':36,fill:'#111'}],[3372,1420,'(g)',{'font-size':64,fill:'#fff','font-family':'"Liberation Sans",sans-serif'}]]);
  photo('photo-h-top',3525,964,528,245,'3525,1172 4053,1056 4053,1108 3541,1209 3525,1209','3541,1205 4053,1108 4053,1209 3541,1209',[3918,1043,80,58],
    ['M3541,1203 L4050,1203 M3541,1203 L4050,1108','M3872,1164 Q3888,1183 3872,1203','M3900,1040 L3927,995 L3946,1035 Z','M3905,1000 Q3915,960 3935,975 Q3945,990 3930,1000'],
    [[3902,1178,'10°',{'font-size':46,fill:'#ff1a1a'}],[3533,1056,'0 s',{'font-size':36,fill:'#111'}],[3533,1092,'1 mm',{'font-size':18,fill:'#111'}]]);
  mk('line',{x1:3533,y1:1100,x2:3563,y2:1100,stroke:'#111','stroke-width':3},g,'scale-bar',false);
  photo('photo-h-bottom',3525,1216,528,236,'3525,1406 4053,1306 4053,1350 3647,1432 3525,1452','3647,1432 4053,1350 4053,1452 3525,1452',[3886,1302,80,58],
    ['M3877,1265 L3920,1280 L3890,1330 Z'],
    [[3530,1262,'3 s',{'font-size':36,fill:'#111'}],[3995,1420,'(h)',{'font-size':64,fill:'#fff','font-family':'"Liberation Sans",sans-serif'}]]);
})();
</script>
</body></html>
